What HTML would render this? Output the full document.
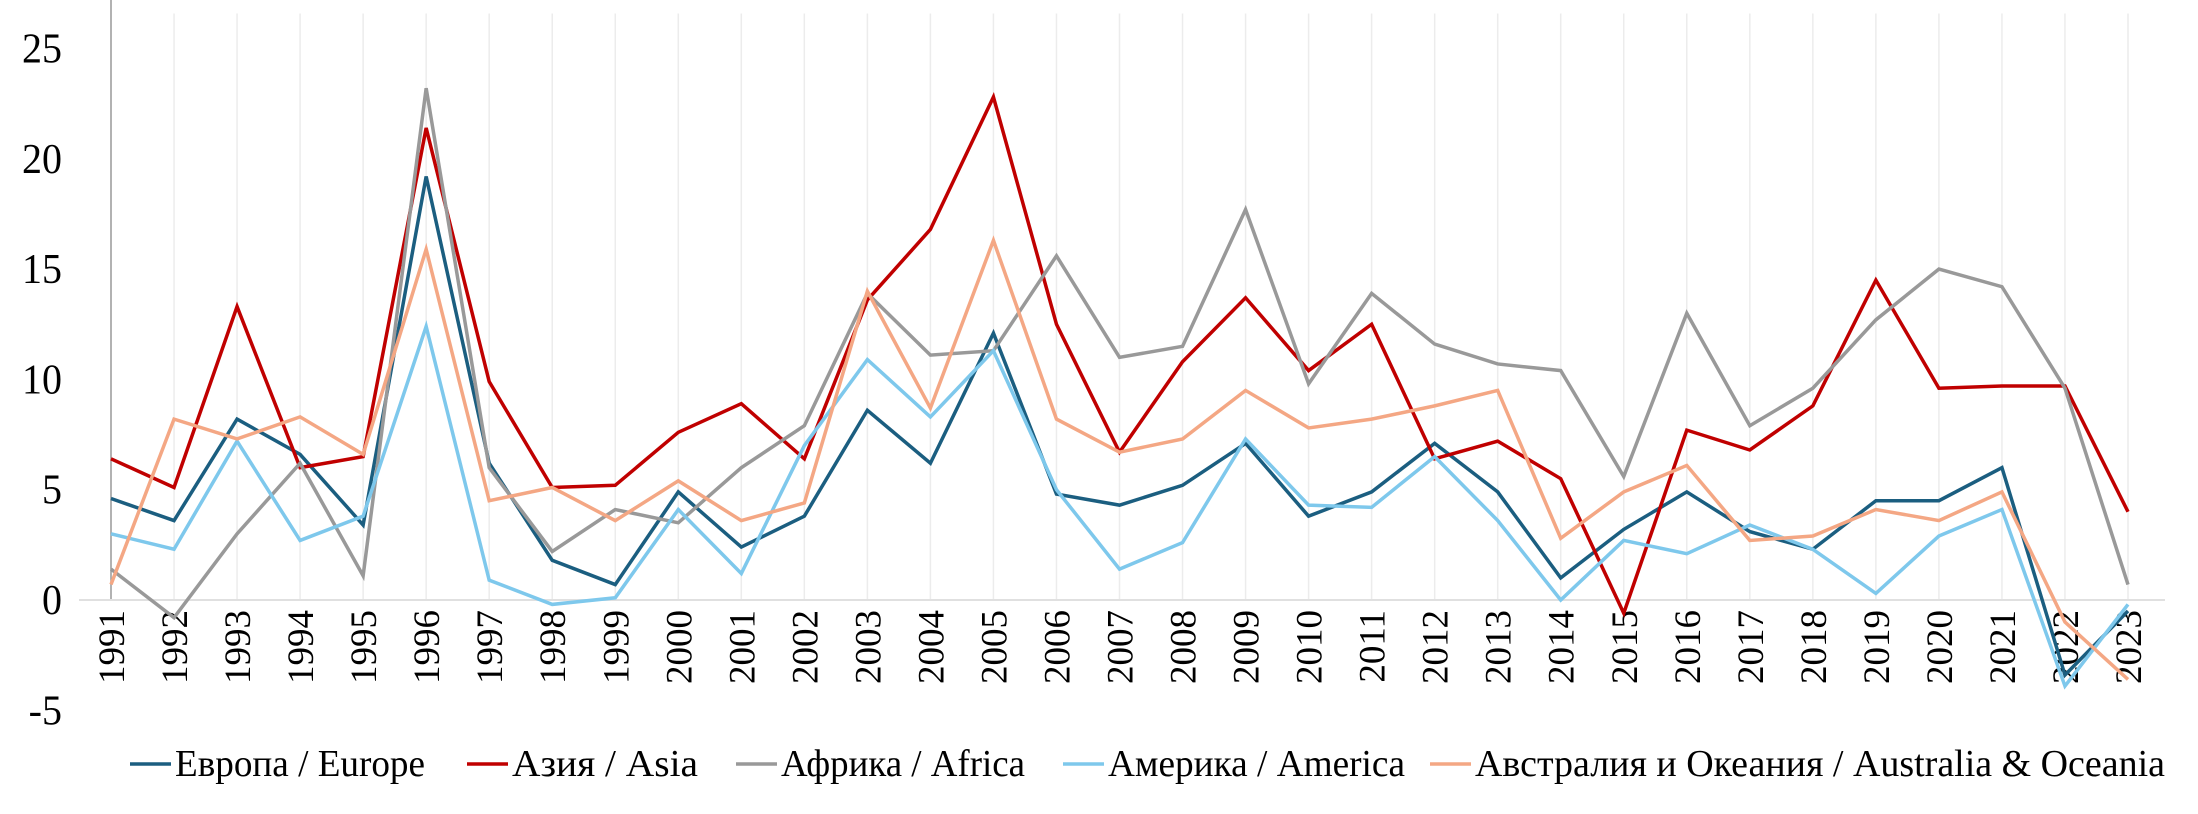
<!DOCTYPE html>
<html><head><meta charset="utf-8">
<style>
html,body{margin:0;padding:0;background:#fff;}
svg{display:block;font-family:"Liberation Serif","Noto Serif CJK SC",serif;}
</style></head>
<body>
<svg id="chart" width="2198" height="814" viewBox="0 0 2198 814" xmlns="http://www.w3.org/2000/svg">
<g id="grid"></g>
<g id="axes"></g>
<g id="series"></g>
<g id="legend"></g>
</svg>
<script>
const years = [1991,1992,1993,1994,1995,1996,1997,1998,1999,2000,2001,2002,2003,2004,2005,2006,2007,2008,2009,2010,2011,2012,2013,2014,2015,2016,2017,2018,2019,2020,2021,2022,2023];
const europe = [4.6,3.6,8.2,6.6,3.4,19.2,6.2,1.8,0.7,4.9,2.4,3.8,8.6,6.2,12.1,4.8,4.3,5.2,7.1,3.8,4.9,7.1,4.9,1.0,3.2,4.9,3.1,2.3,4.5,4.5,6.0,-3.4,-0.5];
const asia = [6.4,5.1,13.3,6.0,6.5,21.4,9.9,5.1,5.2,7.6,8.9,6.4,13.6,16.8,22.8,12.5,6.7,10.8,13.7,10.4,12.5,6.4,7.2,5.5,-0.6,7.7,6.8,8.8,14.5,9.6,9.7,9.7,4.0];
const africa = [1.4,-0.8,3.0,6.2,1.1,23.2,6.0,2.2,4.1,3.5,6.0,7.9,13.9,11.1,11.3,15.6,11.0,11.5,17.7,9.8,13.9,11.6,10.7,10.4,5.6,13.0,7.9,9.6,12.7,15.0,14.2,9.6,0.7];
const america = [3.0,2.3,7.2,2.7,3.8,12.4,0.9,-0.2,0.1,4.1,1.2,7.0,10.9,8.3,11.3,5.0,1.4,2.6,7.3,4.3,4.2,6.5,3.6,0.0,2.7,2.1,3.4,2.3,0.3,2.9,4.1,-3.9,-0.2];
const australia = [0.7,8.2,7.3,8.3,6.6,15.9,4.5,5.1,3.6,5.4,3.6,4.4,14.0,8.7,16.3,8.2,6.7,7.3,9.5,7.8,8.2,8.8,9.5,2.8,4.9,6.1,2.7,2.9,4.1,3.6,4.9,-1.0,-3.6];
const yTicks = [-5,0,5,10,15,20,25];
const seriesNames = ["Европа / Europe","Азия / Asia","Африка / Africa","Америка / America","Австралия и Океания / Australia & Oceania"];

const NS="http://www.w3.org/2000/svg";
const X0=111, X1=2128, Y0=600, PU=22.06;
function xs(i){return X0+(X1-X0)*i/(years.length-1);}
function ys(v){return Y0-v*PU;}
function mk(tag,attrs,parent){const e=document.createElementNS(NS,tag);for(const k in attrs)e.setAttribute(k,attrs[k]);parent.appendChild(e);return e;}

const grid=document.getElementById('grid'), axes=document.getElementById('axes'), ser=document.getElementById('series'), leg=document.getElementById('legend');
years.forEach((y,i)=>{
  if(i>0){const g=mk('line',{x1:xs(i),x2:xs(i),y1:ys(25)-35,y2:Y0,stroke:'#ececec','stroke-width':1.5},grid);
  
  }
  const t=mk('text',{x:0,y:0,'font-size':37,'text-anchor':'end',transform:`translate(${xs(i)+13},${Y0+10}) rotate(-90)`,fill:'#000'},axes);
  t.textContent=y;
  
  
});
const ya=mk('line',{x1:X0,x2:X0,y1:0,y2:Y0,stroke:'#999','stroke-width':1.5},axes);


const xa=mk('line',{x1:79,x2:2165,y1:Y0,y2:Y0,stroke:'#e0e0e0','stroke-width':2},axes);


yTicks.forEach(v=>{
  const t=mk('text',{x:0,y:0,'font-size':40,'text-anchor':'end',fill:'#000',transform:`translate(62,${ys(v)+14}) scale(1,1.05)`},axes);
  t.textContent=v;
  
  
});
const colors=['#1b5e80','#c00000','#999999','#7ec8ec','#f4a784'];
const data=[europe,asia,africa,america,australia];
const keys=['europe','asia','africa','america','australia'];
data.forEach((d,s)=>{
  const p=mk('polyline',{points:d.map((v,i)=>xs(i)+','+ys(v)).join(' '),fill:'none',stroke:colors[s],'stroke-width':3.5,'stroke-linejoin':'miter'},ser);
  
  
});
const legX=[130,467,736,1063,1430], legW=[250,186,244,297,690];
seriesNames.forEach((n,s)=>{
  const g=mk('g',{},leg);
  
  
  mk('line',{x1:legX[s],x2:legX[s]+41,y1:764,y2:764,stroke:colors[s],'stroke-width':3.5},g);
  const t=mk('text',{x:0,y:0,'font-size':35,fill:'#000',textLength:legW[s],lengthAdjust:'spacingAndGlyphs',transform:`translate(${legX[s]+45},776) scale(1,1.1)`},g);
  t.textContent=n;
});
</script>
</body></html>
